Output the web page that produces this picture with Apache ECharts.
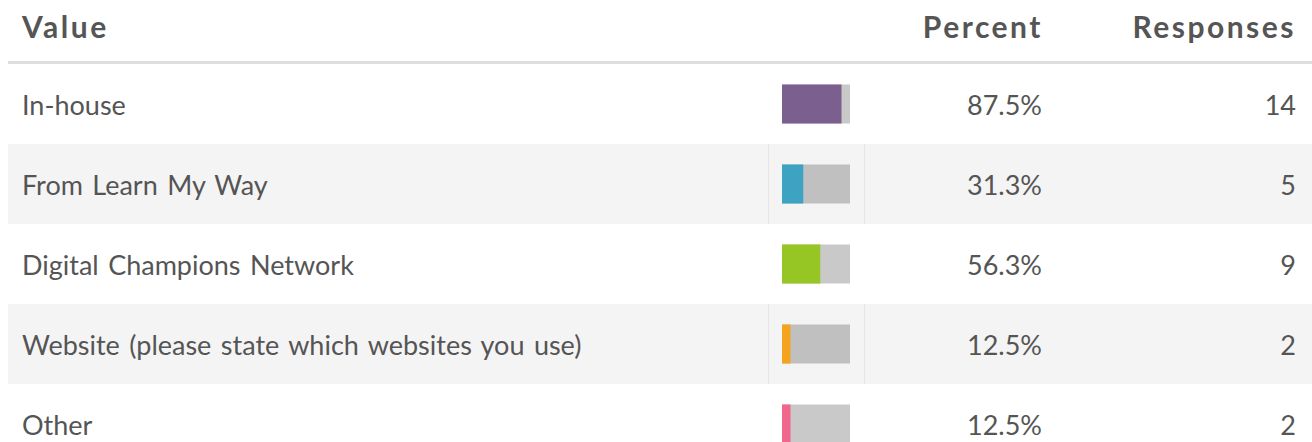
<!DOCTYPE html>
<html>
<head>
<meta charset="utf-8">
<script src="https://cdn.jsdelivr.net/npm/echarts@6/dist/echarts.min.js"></script>
<style>
  html, body { margin: 0; padding: 0; background: #fff; }
  #chart { width: 1312px; height: 442px; }
  /* the original spaces its text a little wider */
  #chart text { word-spacing: 2.5px; }
  #chart text[style*="bold"] { letter-spacing: 2.5px; }
</style>
</head>
<body>
<div id="chart"></div>
<script>
var values = ['In-house', 'From Learn My Way', 'Digital Champions Network', 'Website (please state which websites you use)', 'Other']
var percents = [87.5, 31.3, 56.3, 12.5, 12.5]
var responses = [14, 5, 9, 2, 2]
var barColors = ['#7b5f8e', '#3ea2c3', '#96c624', '#f5a31f', '#f0678b']
var headers = ['Value', 'Percent', 'Responses']

var font = 'Lato, "Open Sans", sans-serif'
var textColor = '#555'

var chart = echarts.init(document.getElementById('chart'), null, { renderer: 'svg' })

// row backgrounds, cell borders and the text columns
function renderRow(params, api) {
  var idx = api.value(1)
  var c = api.coord([0, idx])
  var h = api.size([0, 1])[1]
  var sys = params.coordSys
  var top = c[1] - h / 2
  var children = []
  if (idx % 2 === 1) {
    children.push({ type: 'rect', shape: { x: sys.x, y: top, width: sys.width, height: h }, style: { fill: '#f4f4f4' } })
    children.push({ type: 'rect', shape: { x: 768, y: top, width: 1, height: h }, style: { fill: '#e6e6e6' } })
    children.push({ type: 'rect', shape: { x: 864, y: top, width: 1, height: h }, style: { fill: '#e6e6e6' } })
  }
  children.push({
    type: 'text',
    style: { x: 22, y: c[1], text: values[idx], fill: textColor, font: '27px ' + font, align: 'left', verticalAlign: 'middle' }
  })
  children.push({
    type: 'text',
    style: { x: 1042, y: c[1], text: percents[idx].toFixed(1) + '%', fill: textColor, font: '27px ' + font, align: 'right', verticalAlign: 'middle' }
  })
  children.push({
    type: 'text',
    style: { x: 1296, y: c[1], text: String(responses[idx]), fill: textColor, font: '27px ' + font, align: 'right', verticalAlign: 'middle' }
  })
  return { type: 'group', children: children }
}

var option = {
  animation: false,
  backgroundColor: '#fff',
  grid: [
    { left: 8, right: 0, top: 64, height: 400, outerBoundsMode: 'none' },
    { left: 782, width: 68, top: 64, height: 400, outerBoundsMode: 'none' }
  ],
  xAxis: [
    { gridIndex: 0, type: 'value', min: 0, max: 1, show: false },
    { gridIndex: 1, type: 'value', min: 0, max: 100, show: false }
  ],
  yAxis: [
    { gridIndex: 0, type: 'category', data: values, inverse: true, show: false },
    { gridIndex: 1, type: 'category', data: values, inverse: true, show: false }
  ],
  graphic: [
    { type: 'rect', left: 8, top: 61, shape: { width: 1304, height: 3 }, style: { fill: '#dedede' } },
    { type: 'text', x: 22, y: 26, style: { text: headers[0], fill: textColor, font: 'bold 30px ' + font, align: 'left', verticalAlign: 'middle' } },
    { type: 'text', x: 1043, y: 26, style: { text: headers[1], fill: textColor, font: 'bold 30px ' + font, align: 'right', verticalAlign: 'middle' } },
    { type: 'text', x: 1296, y: 26, style: { text: headers[2], fill: textColor, font: 'bold 30px ' + font, align: 'right', verticalAlign: 'middle' } }
  ],
  series: [
    {
      type: 'custom',
      xAxisIndex: 0,
      yAxisIndex: 0,
      renderItem: renderRow,
      data: values.map(function(v, i) { return [0, i] }),
      silent: true,
      z: 1
    },
    {
      type: 'bar',
      xAxisIndex: 1,
      yAxisIndex: 1,
      barWidth: 39,
      showBackground: true,
      backgroundStyle: { color: 'rgba(0,0,0,0.21)' },
      data: percents.map(function(p, i) {
        return { value: p, itemStyle: { color: barColors[i] } }
      }),
      z: 3
    }
  ]
}

chart.setOption(option)
</script>
</body>
</html>
